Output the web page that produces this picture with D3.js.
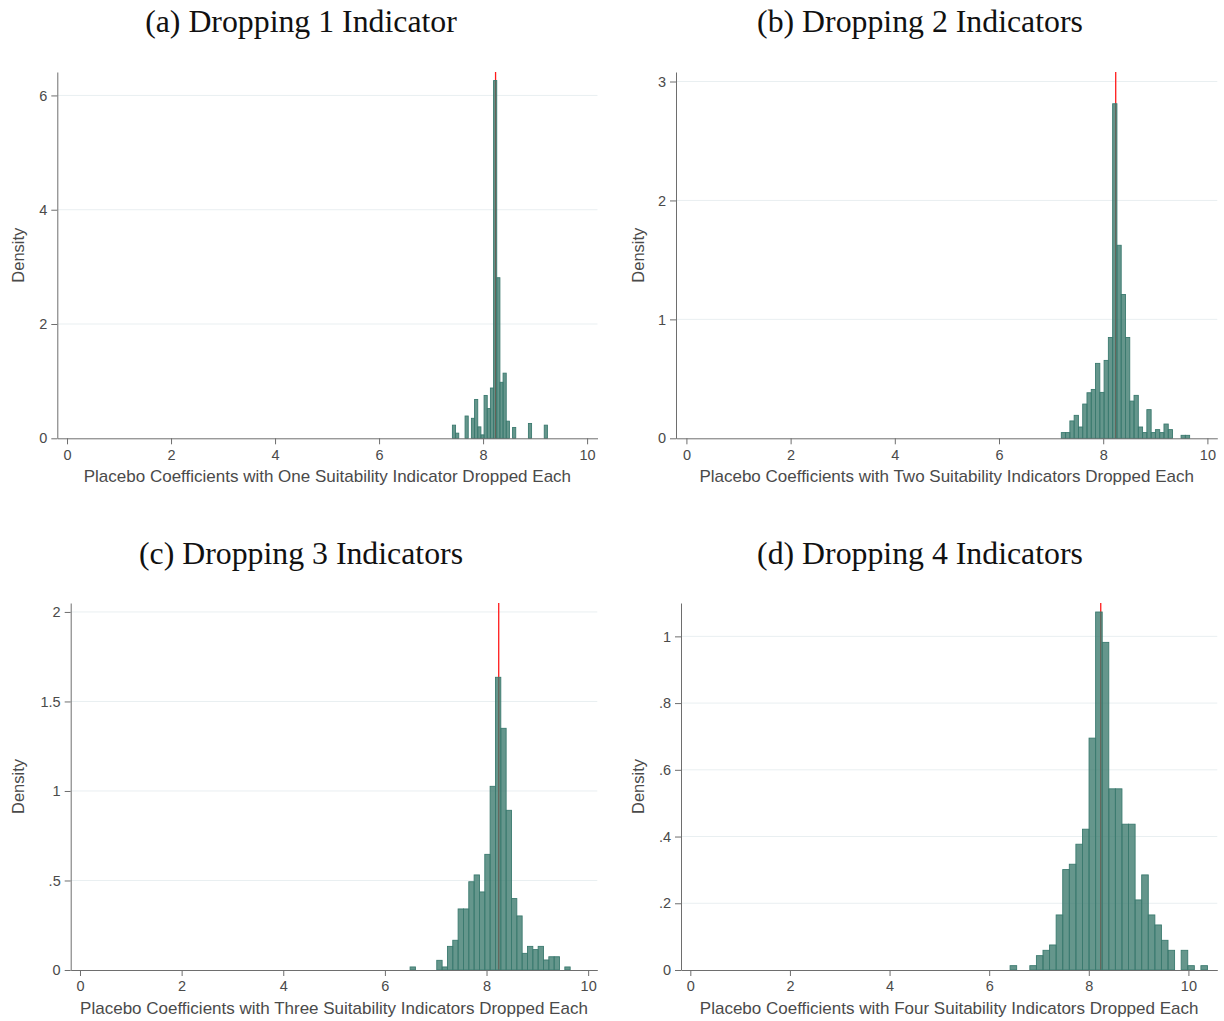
<!DOCTYPE html>
<html>
<head>
<meta charset="utf-8">
<script src="https://cdn.jsdelivr.net/npm/d3@7"></script>
<style>
  html, body { margin: 0; padding: 0; background: #ffffff; }
  svg { display: block; }
</style>
</head>
<body>
<svg id="chart" width="1224" height="1021"></svg>
<script>
// ---------------- DATA ----------------
const titles = [
  "(a) Dropping 1 Indicator",
  "(b) Dropping 2 Indicators",
  "(c) Dropping 3 Indicators",
  "(d) Dropping 4 Indicators"
];
const xAxisTitles = [
  "Placebo Coefficients with One Suitability Indicator Dropped Each",
  "Placebo Coefficients with Two Suitability Indicators Dropped Each",
  "Placebo Coefficients with Three Suitability Indicators Dropped Each",
  "Placebo Coefficients with Four Suitability Indicators Dropped Each"
];
const yAxisTitle = "Density";

// histogram densities (one value per bin)
const densityA = [0.23, 0.09, 0, 0, 0.39, 0, 0.35, 0.68, 0.20, 0.06,
                  0.75, 0.52, 0.88, 6.26, 2.81, 0.98, 1.14, 0.30, 0, 0.19,
                  0, 0, 0, 0, 0.26, 0, 0, 0, 0, 0.23];
const densityB = [0.048, 0.048, 0.146, 0.193, 0.095, 0.288, 0.383, 0.411, 0.630, 0.386,
                  0.655, 0.848, 2.813, 1.623, 1.209, 0.848, 0.313, 0.361, 0.095, 0.048,
                  0.241, 0.048, 0.073, 0.048, 0.120, 0.073, 0, 0, 0.025, 0.025];
const densityC = [0.017, 0, 0, 0, 0, 0.054, 0.017, 0.132, 0.166, 0.341,
                  0.341, 0.493, 0.531, 0.436, 0.646, 1.026, 1.635, 1.350, 0.892, 0.399,
                  0.302, 0.093, 0.132, 0.114, 0.132, 0.056, 0.074, 0.074, 0, 0.017];
const densityD = [0.013, 0, 0, 0.013, 0.043, 0.059, 0.075, 0.165, 0.301, 0.317,
                  0.377, 0.422, 0.695, 1.073, 0.982, 0.543, 0.543, 0.437, 0.437, 0.210,
                  0.285, 0.165, 0.135, 0.089, 0.059, 0, 0.059, 0.013, 0, 0.013];

// lower edge of the first bin and bin width (coefficient units)
const binStarts = [7.41, 7.196, 6.496, 6.42];
const binWidths = [0.0609, 0.0821, 0.105, 0.1321];

// baseline coefficient (red line)
const baselineCoef = 8.24;

// axes
const xTicks = [0, 2, 4, 6, 8, 10];
const xTickLabels = ["0", "2", "4", "6", "8", "10"];
const yTicksA = [0, 2, 4, 6];
const yTickLabelsA = ["0", "2", "4", "6"];
const yTicksB = [0, 1, 2, 3];
const yTickLabelsB = ["0", "1", "2", "3"];
const yTicksC = [0, 0.5, 1, 1.5, 2];
const yTickLabelsC = ["0", ".5", "1", "1.5", "2"];
const yTicksD = [0, 0.2, 0.4, 0.6, 0.8, 1];
const yTickLabelsD = ["0", ".2", ".4", ".6", ".8", "1"];
const xRanges = [[-0.187, 10.2], [-0.2, 10.19], [-0.183, 10.18], [-0.187, 10.58]];
const yTops = [6.41, 3.08, 2.05, 1.10];

// ---------------- LAYOUT ----------------
const layout = [
  {left: 57.3, right: 597.5, top: 72, bottom: 438.3, titleX: 301, titleY: 32, densX: 18},
  {left: 676, right: 1217.3, top: 72, bottom: 438.3, titleX: 920, titleY: 32, densX: 638},
  {left: 70.7, right: 597.3, top: 603, bottom: 970, titleX: 301, titleY: 564, densX: 18},
  {left: 681, right: 1217.3, top: 603, bottom: 970, titleX: 920, titleY: 564, densX: 638}
];

const densities = [densityA, densityB, densityC, densityD];
const yTicksAll = [yTicksA, yTicksB, yTicksC, yTicksD];
const yTickLabelsAll = [yTickLabelsA, yTickLabelsB, yTickLabelsC, yTickLabelsD];

const svg = d3.select("#chart");
const sans = "'Liberation Sans', Arial, Helvetica, sans-serif";
const serif = "'Liberation Serif', 'Times New Roman', serif";
const axisColor = "#6e6e6e";
const textColor = "#4a4a4a";
const gridColor = "#e9eff1";
const barFill = "#3a786c";
const barStroke = "#3b7a6f";

densities.forEach((dens, p) => {
  const L = layout[p];
  const g = svg.append("g");
  const x = d3.scaleLinear().domain(xRanges[p]).range([L.left, L.right]);
  const y = d3.scaleLinear().domain([0, yTops[p]]).range([L.bottom, L.top]);

  // gridlines
  g.selectAll("line.grid").data(yTicksAll[p].filter(t => t > 0)).enter()
    .append("line")
    .attr("x1", L.left).attr("x2", L.right)
    .attr("y1", d => y(d)).attr("y2", d => y(d))
    .attr("stroke", gridColor).attr("stroke-width", 1);

  // red reference line (drawn beneath semi-transparent bars)
  g.append("line")
    .attr("x1", x(baselineCoef)).attr("x2", x(baselineCoef))
    .attr("y1", y(yTops[p])).attr("y2", y(0))
    .attr("stroke", "#ff1a1a").attr("stroke-width", 1.3);

  // bars
  const w = binWidths[p];
  const bins = dens.map((d, i) => ({x0: binStarts[p] + i * w, x1: binStarts[p] + (i + 1) * w, d}))
                   .filter(b => b.d > 0);
  g.selectAll("rect.bar").data(bins).enter()
    .append("rect")
    .attr("x", b => x(b.x0))
    .attr("width", b => x(b.x1) - x(b.x0))
    .attr("y", b => y(b.d))
    .attr("height", b => y(0) - y(b.d))
    .attr("fill", barFill).attr("fill-opacity", 0.78)
    .attr("stroke", barStroke).attr("stroke-width", 0.9);

  // y axis
  const yAxis = d3.axisLeft(y).tickValues(yTicksAll[p])
    .tickFormat((d, i) => yTickLabelsAll[p][i]).tickSize(6).tickPadding(4).tickSizeOuter(0);
  const ya = g.append("g").attr("transform", `translate(${L.left},0)`).call(yAxis);
  ya.select(".domain").attr("stroke", axisColor);
  ya.selectAll(".tick line").attr("stroke", axisColor);
  ya.selectAll(".tick text").attr("fill", textColor).style("font-family", sans).style("font-size", "14.5px");

  // x axis
  const xAxis = d3.axisBottom(x).tickValues(xTicks)
    .tickFormat((d, i) => xTickLabels[i]).tickSize(6).tickPadding(5).tickSizeOuter(0);
  const xa = g.append("g").attr("transform", `translate(0,${L.bottom})`).call(xAxis);
  xa.select(".domain").attr("stroke", axisColor);
  xa.selectAll(".tick line").attr("stroke", axisColor);
  xa.selectAll(".tick text").attr("fill", textColor).style("font-family", sans).style("font-size", "14.5px");

  // axis titles
  g.append("text")
    .attr("x", (L.left + L.right) / 2).attr("y", L.bottom + 44)
    .attr("text-anchor", "middle")
    .style("font-family", sans).style("font-size", "17px").attr("fill", textColor)
    .text(xAxisTitles[p]);
  g.append("text")
    .attr("transform", `translate(${L.densX + 5.5},${(L.top + L.bottom) / 2}) rotate(-90)`)
    .attr("text-anchor", "middle")
    .style("font-family", sans).style("font-size", "16.5px").attr("fill", textColor)
    .text(yAxisTitle);

  // panel title
  g.append("text")
    .attr("x", L.titleX).attr("y", L.titleY)
    .attr("text-anchor", "middle")
    .style("font-family", serif).style("font-size", "31.8px").attr("fill", "#111")
    .text(titles[p]);
});
</script>
</body>
</html>
